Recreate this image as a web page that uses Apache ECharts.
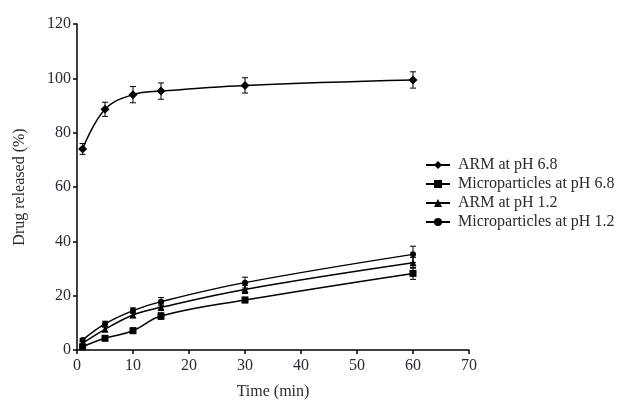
<!DOCTYPE html>
<html>
<head>
<meta charset="utf-8">
<script src="https://cdn.jsdelivr.net/npm/echarts@6/dist/echarts.min.js"></script>
<style>
  html, body { margin: 0; padding: 0; background: #fff; }
  #chart { width: 623px; height: 401px; }
</style>
</head>
<body>
<div id="chart"></div>
<script>
var times = [1, 5, 10, 15, 30, 60];
var seriesNames = ['ARM at pH 6.8', 'Microparticles at pH 6.8', 'ARM at pH 1.2', 'Microparticles at pH 1.2'];
var armPh68 = [74, 88.6, 94, 95.3, 97.4, 99.4];
var microPh68 = [1.2, 4.3, 7.1, 12.5, 18.4, 28.2];
var armPh12 = [2.5, 7.6, 12.9, 15.7, 22.3, 32.1];
var microPh12 = [3.7, 9.6, 14.5, 17.8, 24.8, 35.2];
var errArmPh68 = [2, 2.6, 3, 3, 2.8, 3];
var errMicroPh68 = [0.5, 0.8, 1, 1.2, 1, 2.2];
var errArmPh12 = [0.5, 0.8, 1, 1.2, 1.5, 2];
var errMicroPh12 = [0.5, 1, 1, 1.5, 2, 3];

var font = 'Liberation Serif';
var txt = '#2a2a35';

function pairs(vals) {
  return times.map(function (t, i) { return [t, vals[i]]; });
}
function errData(vals, errs) {
  return times.map(function (t, i) { return [t, vals[i] - errs[i], vals[i] + errs[i]]; });
}
function errSeries(vals, errs) {
  return {
    type: 'custom',
    silent: true,
    z: 1,
    data: errData(vals, errs),
    renderItem: function (params, api) {
      var top = api.coord([api.value(0), api.value(2)]);
      var bot = api.coord([api.value(0), api.value(1)]);
      var w = 3;
      var st = { stroke: '#000', lineWidth: 1 };
      return {
        type: 'group',
        children: [
          { type: 'line', shape: { x1: top[0], y1: top[1], x2: bot[0], y2: bot[1] }, style: st },
          { type: 'line', shape: { x1: top[0] - w, y1: top[1], x2: top[0] + w, y2: top[1] }, style: st },
          { type: 'line', shape: { x1: bot[0] - w, y1: bot[1], x2: bot[0] + w, y2: bot[1] }, style: st }
        ]
      };
    }
  };
}
function lineSeries(name, vals, symbol, size) {
  return {
    name: name,
    type: 'line',
    data: pairs(vals),
    smooth: 0.4,
    symbol: symbol,
    symbolSize: size,
    z: 3,
    itemStyle: { color: '#000' },
    lineStyle: { color: '#000', width: 1.5 }
  };
}

var chart = echarts.init(document.getElementById('chart'));
chart.setOption({
  animation: false,
  grid: { left: 77, right: 154, top: 24, bottom: 51, outerBoundsMode: 'none' },
  legend: {
    data: seriesNames,
    orient: 'vertical',
    left: 420,
    top: 152,
    itemWidth: 24,
    itemHeight: 10,
    itemGap: 3,
    textStyle: { fontFamily: font, fontSize: 16, lineHeight: 16, color: txt, padding: [0, 0, 0, 3] }
  },
  xAxis: {
    type: 'value',
    min: 0,
    max: 70,
    interval: 10,
    name: 'Time (min)',
    nameLocation: 'middle',
    nameGap: 34,
    nameTextStyle: { fontFamily: font, fontSize: 16, color: txt },
    axisLine: { lineStyle: { color: '#000', width: 1.5 } },
    axisTick: { lineStyle: { color: '#000', width: 1.5 }, length: 4 },
    axisLabel: { fontFamily: font, fontSize: 16, color: txt, margin: 8 },
    splitLine: { show: false }
  },
  yAxis: {
    type: 'value',
    min: 0,
    max: 120,
    interval: 20,
    name: 'Drug released (%)',
    nameLocation: 'middle',
    nameGap: 49,
    nameTextStyle: { fontFamily: font, fontSize: 16, color: txt },
    axisLine: { show: true, lineStyle: { color: '#000', width: 1.5 } },
    axisTick: { show: true, lineStyle: { color: '#000', width: 1.5 }, length: 4 },
    axisLabel: { fontFamily: font, fontSize: 16, color: txt, margin: 6 },
    splitLine: { show: false }
  },
  series: [
    lineSeries(seriesNames[0], armPh68, 'diamond', 9),
    lineSeries(seriesNames[1], microPh68, 'rect', 7),
    lineSeries(seriesNames[2], armPh12, 'triangle', 7),
    lineSeries(seriesNames[3], microPh12, 'circle', 6),
    errSeries(armPh68, errArmPh68),
    errSeries(microPh68, errMicroPh68),
    errSeries(armPh12, errArmPh12),
    errSeries(microPh12, errMicroPh12)
  ]
});
</script>
</body>
</html>
